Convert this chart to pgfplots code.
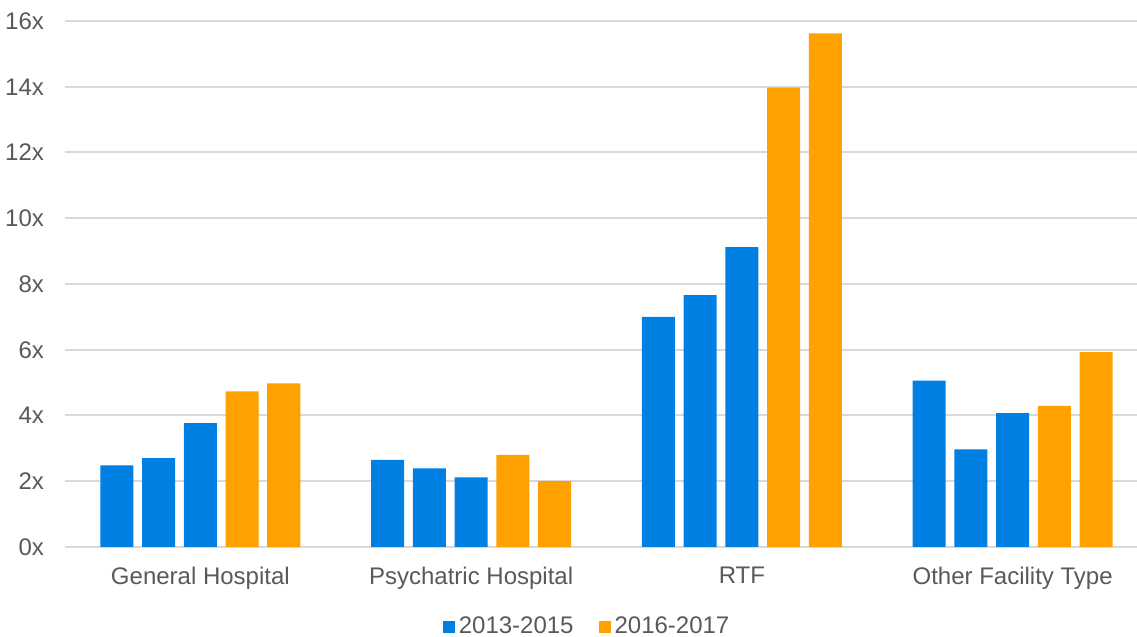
\documentclass[border=0pt]{standalone}
\usepackage{pgfplots}
\pgfplotsset{compat=1.18}
\usepackage{fontspec}
\setmainfont{Liberation Sans}
\definecolor{barblue}{RGB}{0,128,226}
\definecolor{barorange}{RGB}{255,161,0}
\definecolor{gridgray}{RGB}{217,217,217}
\definecolor{txtgray}{RGB}{89,89,89}
\begin{document}
\begin{tikzpicture}
\useasboundingbox (-32.5pt,-45pt) rectangle (536pt,273.5pt);
\clip (-32.5pt,-45pt) rectangle (536pt,273.5pt);
\begin{axis}[
  at={(0,0)}, anchor=south west,
  scale only axis,
  width=541.5pt, height=263pt,
  xmin=-0.5, xmax=3.5,
  ymin=0, ymax=16,
  ytick={0,2,...,16},
  yticklabel={\pgfmathprintnumber{\tick}x},
  xtick={0,1,2,3},
  xticklabels={General Hospital,Psychatric Hospital,RTF,Other Facility Type},
  axis line style={draw=none},
  major tick length=0pt,
  ymajorgrids,
  grid style={gridgray, line width=1pt},
  tick label style={font=\fontsize{12}{14}\selectfont, text=txtgray},
  yticklabel style={xshift=-7pt},
  xticklabel style={yshift=-6.5pt},
  /pgf/number format/assume math mode=true,
  ybar, bar width=0.122, bar shift=0pt,
  legend columns=2,
  legend style={draw=none, fill=none, at={(0.483,-0.152)}, anchor=center,
    font=\fontsize{12}{14}\selectfont, text=txtgray,
    /tikz/every even column/.append style={column sep=10.5pt}},
  legend image code/.code={\fill[#1] (0pt,-3pt) rectangle (6pt,3pt);},
]
\addplot[fill=barblue, draw=none] coordinates {
  (-0.308,2.48) (-0.154,2.70) (0,3.77)
  (0.692,2.65) (0.846,2.39) (1,2.12)
  (1.692,7.00) (1.846,7.66) (2,9.12)
  (2.692,5.06) (2.846,2.97) (3,4.07)
};
\addlegendentry{2013-2015}
\addplot[fill=barorange, draw=none] coordinates {
  (0.154,4.73) (0.308,4.98)
  (1.154,2.80) (1.308,2.00)
  (2.154,13.97) (2.308,15.62)
  (3.154,4.29) (3.308,5.93)
};
\addlegendentry{2016-2017}
\end{axis}
\end{tikzpicture}
\end{document}
